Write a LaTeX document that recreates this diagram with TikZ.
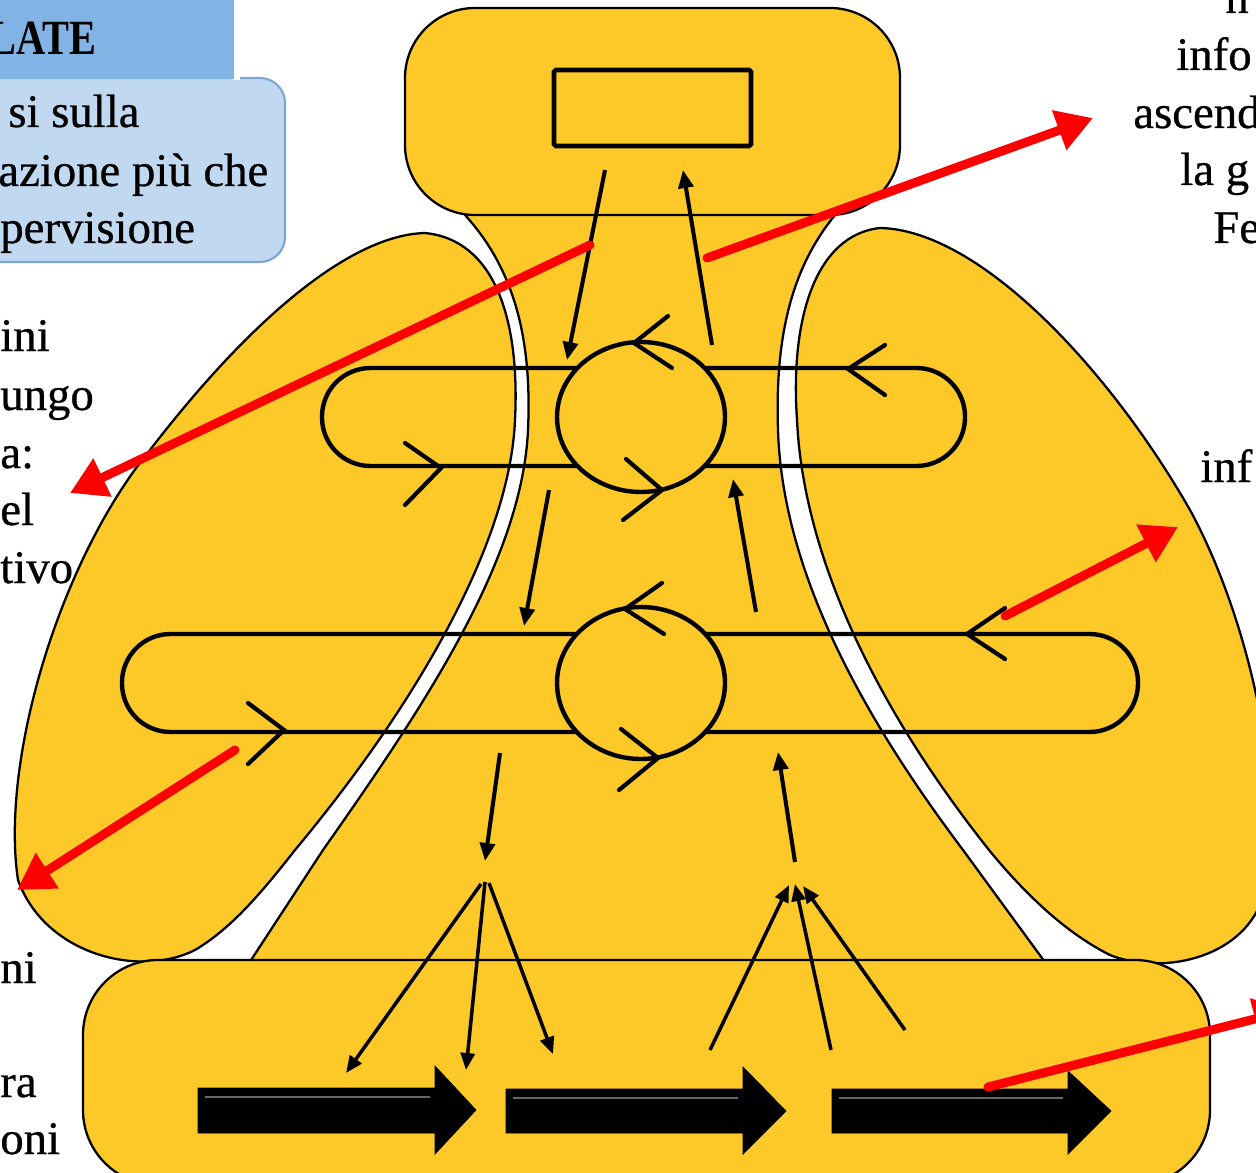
\documentclass[tikz,border=0pt]{standalone}
\usepackage{graphicx}
\usepackage{fontspec}
\setmainfont{Liberation Serif}
\newfontfamily\notefont{Liberation Serif}[FakeBold=0.6]
\usetikzlibrary{arrows.meta}
\definecolor{gold}{RGB}{253,201,40}
\definecolor{hdrblue}{RGB}{130,179,229}
\definecolor{boxblue}{RGB}{192,217,240}
\definecolor{boxedge}{RGB}{125,165,212}
\begin{document}
\begin{tikzpicture}[x=0.02cm,y=-0.02cm,
  shape edge/.style={draw=black, line width=1.3pt},
  ring/.style={draw=black, line width=2.5pt},
  chev/.style={draw=black, line width=2.4pt, line cap=round, line join=miter},
  flow/.style={draw=black, line width=2.3pt, -{Triangle[length=0.36cm,width=0.3cm]}},
  fan/.style={draw=black, line width=2pt, -{Triangle[length=0.34cm,width=0.28cm]}},
  pointer/.style={draw=red, line width=0.18cm, line cap=round, -{Triangle[length=0.72cm,width=0.8cm]}},
  txt/.style={anchor=base west, inner sep=0pt, font=\notefont\fontsize{26.6pt}{32pt}\selectfont},
  blockarrow/.style={fill=black, draw=black, line width=0.4pt},
  glint/.style={draw=black!60, line width=1pt}
]
\useasboundingbox (0,0) rectangle (1256,1172);

% central body joining the top and bottom panels
\filldraw[fill=gold, shape edge]
  (465,215) .. controls (515,270) and (532,340) .. (528,430)
            .. controls (522,560) and (425,705) .. (323,850)
  -- (238,980) -- (1058,980) -- (963,850)
            .. controls (850,700) and (782,560) .. (778,430)
            .. controls (775,340) and (790,270) .. (835,215)
  -- (835,190) -- (465,190) -- cycle;

% side lobes
\filldraw[fill=gold, shape edge]
  (425,233) .. controls (495,240) and (520,320) .. (515,420)
            .. controls (510,540) and (420,700) .. (295,850)
            .. controls (262,892) and (232,928) .. (195,950)
            .. controls (140,978) and (45,955) .. (18,880)
            .. controls (0,760) and (60,560) .. (150,450)
            .. controls (250,320) and (350,235) .. (425,233) -- cycle;
\filldraw[fill=gold, shape edge]
  (880,228) .. controls (815,235) and (790,320) .. (797,420)
            .. controls (803,550) and (870,700) .. (989,850)
            .. controls (1030,900) and (1070,935) .. (1110,955)
            .. controls (1160,975) and (1240,960) .. (1262,900)
            .. controls (1290,800) and (1250,620) .. (1190,510)
            .. controls (1110,370) and (980,230) .. (880,228) -- cycle;

% top and bottom panels
\filldraw[fill=gold, shape edge, rounded corners=1.4cm] (405,8) rectangle (900,215);
\filldraw[fill=gold, shape edge, rounded corners=1.5cm] (83,960) rectangle (1210,1185);

% loops
\draw[ring, rounded corners=0.97cm] (322,368) rectangle (965,466);
\draw[ring, rounded corners=0.97cm] (122,634) rectangle (1138,732);
\filldraw[fill=gold, ring] (641,417) ellipse [x radius=1.68cm, y radius=1.5cm];
\filldraw[fill=gold, ring] (641,683) ellipse [x radius=1.68cm, y radius=1.52cm];

% direction chevrons
\draw[chev] (885,345) -- (848,369) -- (885,395);
\draw[chev] (405,443) -- (441,468) -- (405,505);
\draw[chev] (668,316) -- (634,343) -- (672,368);
\draw[chev] (626,459) -- (662,490) -- (623,520);
\draw[chev] (1005,608) -- (967,634) -- (1005,659);
\draw[chev] (248,703) -- (284,730) -- (248,764);
\draw[chev] (662,583) -- (625,609) -- (664,634);
\draw[chev] (621,729) -- (658,758) -- (619,790);

% apex box
\draw[line width=2.6pt, rounded corners=1pt] (554,70) rectangle (751,146);

% vertical flows
\coordinate (d1a) at (605,170); \coordinate (d1b) at (567,360);
\coordinate (u1a) at (712,345); \coordinate (u1b) at (683,170);
\coordinate (d2a) at (549,490); \coordinate (d2b) at (524,626);
\coordinate (u2a) at (756,612); \coordinate (u2b) at (733,479);
\coordinate (d3a) at (500,753); \coordinate (d3b) at (485,861);
\coordinate (u3a) at (795,862); \coordinate (u3b) at (778,752);
\draw[flow] (d1a) -- (d1b);
\draw[flow] (u1a) -- (u1b);
\draw[flow] (d2a) -- (d2b);
\draw[flow] (u2a) -- (u2b);
\draw[flow] (d3a) -- (d3b);
\draw[flow] (u3a) -- (u3b);

% fans towards and from the bottom panel
\coordinate (fl1) at (481,884); \coordinate (fl2) at (485,882); \coordinate (fl3) at (489,883);
\coordinate (fl1e) at (346,1073); \coordinate (fl2e) at (466,1070); \coordinate (fl3e) at (553,1054);
\draw[fan] (fl1) -- (fl1e);
\draw[fan] (fl2) -- (fl2e);
\draw[fan] (fl3) -- (fl3e);
\coordinate (fr1) at (710,1050); \coordinate (fr2) at (831,1050); \coordinate (fr3) at (905,1030);
\coordinate (fr1e) at (789,885); \coordinate (fr2e) at (795,884); \coordinate (fr3e) at (803,886);
\draw[fan] (fr1) -- (fr1e);
\draw[fan] (fr2) -- (fr2e);
\draw[fan] (fr3) -- (fr3e);

% block arrows
\filldraw[blockarrow] (198,1088) -- (435,1088) -- (435,1066) -- (476,1110) -- (435,1154) -- (435,1133) -- (198,1133) -- cycle;
\draw[glint] (205,1097) -- (430,1097);
\filldraw[blockarrow] (506,1089) -- (743,1089) -- (743,1067) -- (786,1111) -- (743,1154) -- (743,1133) -- (506,1133) -- cycle;
\draw[glint] (513,1098) -- (738,1098);
\filldraw[blockarrow] (832,1089) -- (1068,1089) -- (1068,1071) -- (1111,1111) -- (1068,1154) -- (1068,1133) -- (832,1133) -- cycle;
\draw[glint] (839,1098) -- (1063,1098);

% red pointers
\coordinate (r1a) at (590,245); \coordinate (r1b) at (70,493);
\coordinate (r2a) at (707,258); \coordinate (r2b) at (1093,118);
\coordinate (r3a) at (1005,616); \coordinate (r3b) at (1178,527);
\coordinate (r4a) at (235,750); \coordinate (r4b) at (17,890);
\coordinate (r5a) at (988,1087); \coordinate (r5b) at (1290,1010);
\draw[pointer] (r1a) -- (r1b);
\draw[pointer] (r2a) -- (r2b);
\draw[pointer] (r3a) -- (r3b);
\draw[pointer] (r4a) -- (r4b);
\draw[pointer] (r5a) -- (r5b);

% callout box
\filldraw[fill=boxblue, draw=boxedge, line width=1.2pt, rounded corners=0.5cm] (-40,78) rectangle (285,262);
\fill[white] (232,-10) rectangle (240,80);
\fill[hdrblue] (-40,-10) rectangle (234,79);
\node[anchor=base east, inner sep=0pt, font=\bfseries\fontsize{28pt}{32pt}\selectfont] (hdr) at (97,55) {\scalebox{0.82}[1]{LATE}};
\node[txt] (c1) at (8,127) {si sulla};
\node[txt] (c2) at (-2,186) {azione più che};
\node[txt] (c3) at (0,243) {pervisione};

% left margin text
\node[txt] (l1) at (0,351) {ini};
\node[txt] (l2) at (0,410) {ungo};
\node[txt] (l3) at (0,468) {a:};
\node[txt] (l4) at (0,525) {el};
\node[txt] (l5) at (0,583) {tivo};
\node[txt] (l6) at (0,983) {ni};
\node[txt] (l7) at (0,1097) {ra};
\node[txt] (l8) at (0,1154) {oni};

% right margin text
\node[txt] (t0) at (1225,13) {n};
\node[txt] (t1) at (1176,70) {info};
\node[txt] (t2) at (1133,128) {ascend};
\node[txt] (t3) at (1180,185) {la g};
\node[txt] (t4) at (1213,243) {Fe};
\node[txt] (t5) at (1200,482) {inf};
\end{tikzpicture}
\end{document}
